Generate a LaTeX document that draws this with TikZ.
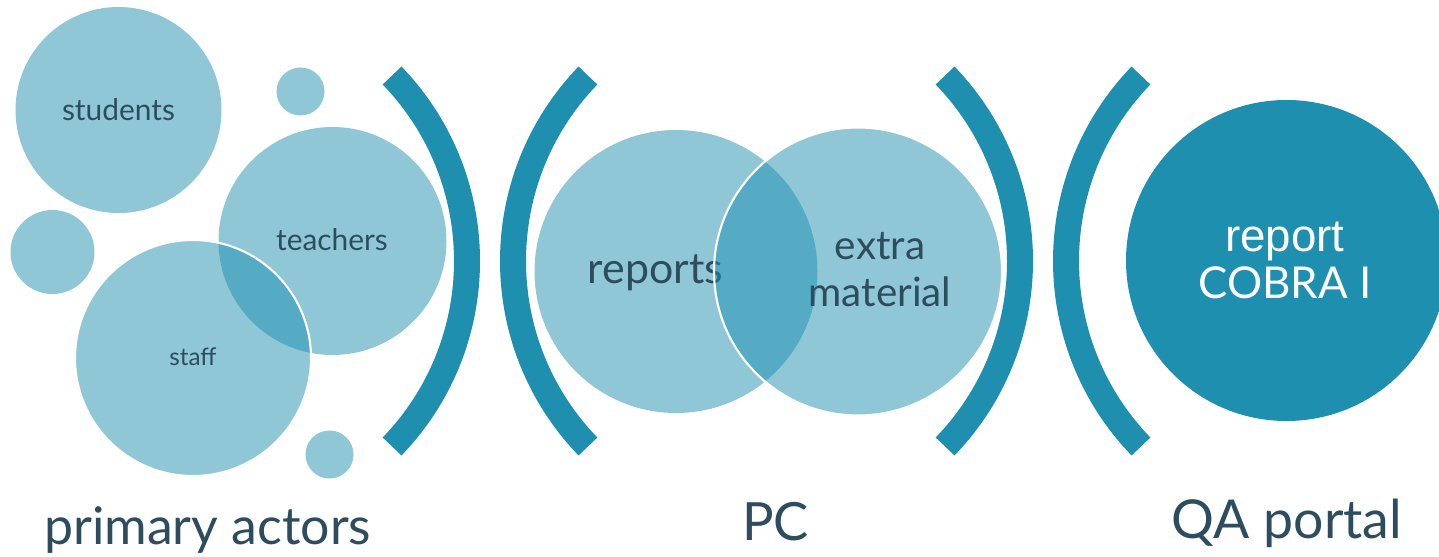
\documentclass[tikz,border=0pt]{standalone}
\usepackage{fontspec}
\setmainfont{Lato}
\newfontfamily\arialfont{Liberation Sans}
\usetikzlibrary{positioning}

\definecolor{cobrateal}{RGB}{31,143,176}
\definecolor{labelslate}{RGB}{45,77,95}

\tikzset{
  bubble/.style={fill=cobrateal, fill opacity=0.5},
  rim/.style={draw=white, line width=1.2pt},
  paren/.style={draw=cobrateal, line width=14.8pt},
  word/.style={text=labelslate, inner sep=0pt, anchor=base, align=center},
}

\begin{document}
\begin{tikzpicture}[x=0.02cm, y=-0.02cm]

  % frame, 1px = 1 unit, y grows downwards
  \clip (0,0) rectangle (1439,557);

  % bracket arcs
  \def\R{267}   % radius of a bracket
  \def\A{44}    % half opening angle
  \def\Ymid{261}

  % --- LEFT: primary actors ---
  \coordinate (c-students) at (118.5,110);
  \coordinate (c-teachers) at (332.5,241);
  \coordinate (c-staff)    at (193,358);

  \fill[bubble] (c-students) circle (103);
  \fill[bubble] (300.5,91.5) circle (24);
  \fill[bubble] (52.5,252) circle (42);
  \fill[bubble] (329.5,454.5) circle (24);
  \fill[bubble] (c-teachers) circle (114);
  \fill[bubble, rim] (c-staff) circle (118);

  \node[word, font=\fontsize{17}{20}\selectfont] (students) at (118.5,121) {students};
  \node[word, font=\fontsize{17}{20}\selectfont] (teachers) at (332,250) {teachers};
  \node[word, font=\fontsize{13.8}{16}\selectfont] (staff) at (193,365.7) {staff};

  % --- MIDDLE: PC ---
  \coordinate (c-reports) at (676,271.5);
  \coordinate (c-extra)   at (858,271.5);

  \fill[bubble] (c-reports) circle (141.5);
  \node[word, font=\fontsize{24.4}{28}\selectfont] (reports) at (655.5,283.3) {reports};
  \fill[bubble, rim] (c-extra) circle (144);
  \node[word, font=\fontsize{23}{26.6}\selectfont] (extra) at (880,306) {extra\\material};

  % --- RIGHT: QA portal ---
  \coordinate (c-cobra) at (1286.5,260.5);
  \fill[cobrateal] (c-cobra) circle (160.5);
  \node[word, text=white, font=\fontsize{25}{26.5}\selectfont] (cobra) at (1285,298.3)
    {{\arialfont\fontsize{26}{26.5}\selectfont report}\\COBRA I};

  % --- brackets between the groups ---
  \foreach \cx/\a in {200/0, 780/180, 753/0, 1333/180}{
    \draw[paren] (\cx,\Ymid) ++(\a-\A:\R) arc[start angle=\a-\A, end angle=\a+\A, radius=\R];
  }

  % --- group labels ---
  \node[word, font=\fontsize{29.5}{32}\selectfont] (actors) at (207.7,544) {primary actors};
  \node[word, font=\fontsize{30}{34}\selectfont] (pc) at (775.5,540) {PC};
  \node[word, font=\fontsize{30.5}{34}\selectfont] (portal) at (1287,538) {QA portal};

\end{tikzpicture}
\end{document}
